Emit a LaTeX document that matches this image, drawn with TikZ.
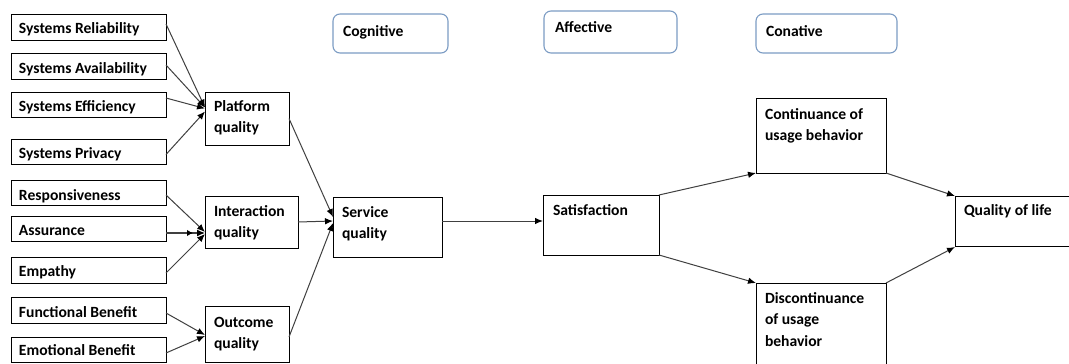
\documentclass[tikz,border=0pt]{standalone}
\usepackage{fontspec}
\setmainfont{Carlito}
\usetikzlibrary{arrows.meta}
\definecolor{rndblue}{HTML}{7C9CC4}
\tikzset{
  bx/.style={draw=black,line width=1pt,inner sep=0pt,outer sep=0pt,anchor=north west},
  rbx/.style={draw=rndblue,line width=1.1pt,rounded corners=7pt,inner sep=0pt,outer sep=0pt,anchor=north west,fill=white},
  arr/.style={draw=black!75,line width=1pt,-{Latex[black,length=8pt,width=6.5pt]}},
  arrtwo/.style={draw=black!75,line width=1.2pt,-{Latex[black,length=6pt,width=6.5pt,sep=4pt] Latex[black,length=8pt,width=7pt]}}
}
% style, name, x1, y1, x2, y2, text dx, first baseline, text
\newcommand\bxn[9]{%
  \node[#1] (#2) at (#3,#4) {\hspace*{#7pt}\parbox[c][\dimexpr#6pt-#4pt\relax][t]{\dimexpr#5pt-#3pt-#7pt\relax}{\raggedright\fontsize{15.6}{21.5}\selectfont\bfseries\rule{0pt}{#8pt}#9}};%
}
\begin{document}
\begin{tikzpicture}[x=1pt,y=-1pt]
\clip (0,0) rectangle (1069,364);
\fill[white] (0,0) rectangle (1069,364);
\bxn{bx}{sr}{11}{14}{166}{40}{8}{20}{Systems Reliability}
\bxn{bx}{sa}{11}{53}{166}{79}{8}{20}{Systems Availability}
\bxn{bx}{se}{11}{92}{166}{117}{8}{19}{Systems Efficiency}
\bxn{bx}{sp}{11}{139}{166}{164}{8}{19}{Systems Privacy}
\bxn{bx}{re}{11}{180}{166}{205}{8}{20}{Responsiveness}
\bxn{bx}{as}{11}{216}{166}{241}{8}{19}{Assurance}
\bxn{bx}{em}{11}{257}{166}{283}{8}{19}{Empathy}
\bxn{bx}{fb}{11}{297}{166}{323}{8}{20}{Functional Benefit}
\bxn{bx}{eb}{11}{337}{166}{362}{8}{18}{Emotional Benefit}
\bxn{bx}{pq}{205}{92}{289}{145}{9}{19}{Platform\\quality}
\bxn{bx}{iq}{205}{196}{298}{248}{9}{20}{Interaction\\quality}
\bxn{bx}{oq}{205}{306}{289}{362}{9}{21}{Outcome\\quality}
\bxn{bx}{sq}{333}{197}{442}{257}{9}{20}{Service\\quality}
\bxn{bx}{sat}{543}{195}{659}{255}{10}{20}{Satisfaction}
\bxn{bx}{cu}{756}{98}{886}{173}{9}{21}{Continuance of\\usage behavior}
\bxn{bx}{du}{756}{283}{886}{380}{9}{20}{Discontinuance\\of usage\\behavior}
\bxn{bx}{ql}{955}{196}{1080}{246}{9}{19}{Quality of life}
\bxn{rbx}{cog}{333}{14}{448}{53}{10}{22}{Cognitive}
\bxn{rbx}{aff}{544}{11}{677}{53}{11}{21}{Affective}
\bxn{rbx}{con}{756}{14}{897}{53}{10}{22}{Conative}
\draw[arr] ([yshift=3pt]sr.east) -- ([yshift=11pt]pq.west);
\draw[arr] ([yshift=1pt]sa.east) -- ([yshift=11pt]pq.west);
\draw[arr] ([yshift=6.5pt]se.east) -- ([yshift=10pt]pq.west);
\draw[arr] ([yshift=-3pt]sp.east) -- ([yshift=7pt]pq.west);
\draw[arr] ([yshift=-2.5pt]re.east) -- ([yshift=-10pt]iq.west);
\draw[arrtwo] ([yshift=-4.5pt]as.east) -- ([yshift=-11pt]iq.west);
\draw[arr] ([yshift=-3pt]em.east) -- ([yshift=-12pt]iq.west);
\draw[arr] ([yshift=-3pt]fb.east) -- ([yshift=-1pt]oq.west);
\draw[arr] ([yshift=-3.5pt]eb.east) -- ([yshift=-2pt]oq.west);
\draw[arr] (pq.east) -- ([yshift=10pt]sq.west);
\draw[arr] (iq.east) -- ([yshift=6pt]sq.west);
\draw[arr] ([yshift=-3pt]oq.east) -- ([yshift=4pt]sq.west);
\draw[arr] ([yshift=6pt]sq.east) -- ([yshift=4pt]sat.west);
\draw[arr] (sat.north east) -- (cu.south west);
\draw[arr] (sat.south east) -- (du.north west);
\draw[arr] (cu.south east) -- (ql.north west);
\draw[arr] (du.north east) -- ([yshift=-1pt]ql.south west);
\end{tikzpicture}
\end{document}
